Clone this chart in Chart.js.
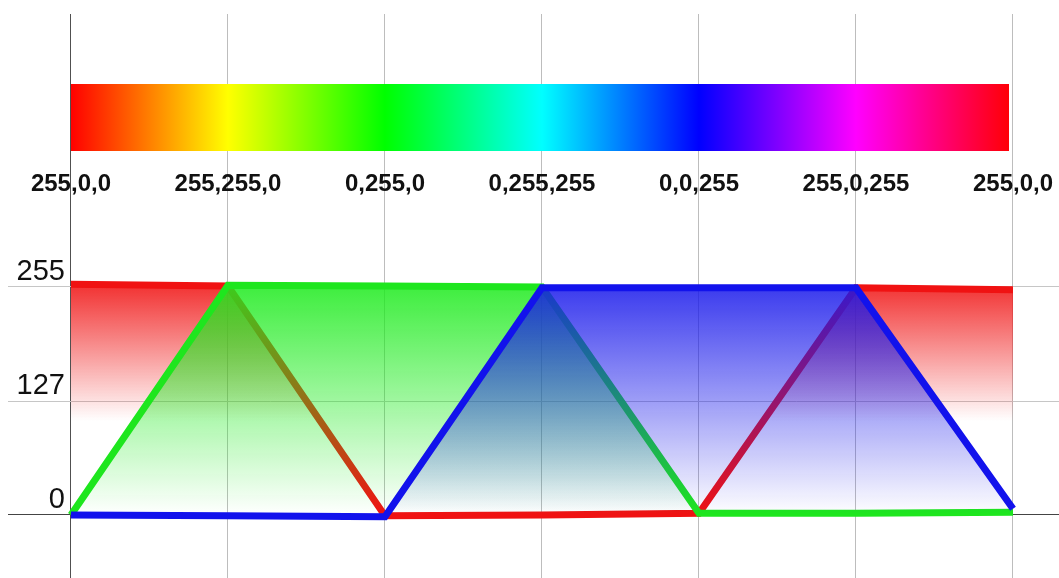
<!DOCTYPE html>
<html>
<head>
<meta charset="utf-8">
<script src="https://cdn.jsdelivr.net/npm/chart.js@4"></script>
<style>
  html, body { margin: 0; padding: 0; background: #fff; }
  #wrap { width: 1059px; height: 578px; }
</style>
</head>
<body>
<div id="wrap"><canvas id="rgb-chart"></canvas></div>
<script>
// steps around the hue wheel and their RGB names
const hueSteps = [0, 1, 2, 3, 4, 5, 6];
const hueLabels = ['255,0,0', '255,255,0', '0,255,0', '0,255,255', '0,0,255', '255,0,255', '255,0,0'];
const hueColors = ['#ff0000', '#ffff00', '#00ff00', '#00ffff', '#0000ff', '#ff00ff', '#ff0000'];

// channel values at each step (as drawn)
const redValues = [258, 256, -1, 0, 2, 254, 252];
const greenValues = [0, 257, 256, 255, 2, 2, 3];
const blueValues = [0, -1, -2, 254, 254, 254, 7];

const yTicks = [0, 127, 255];

// colour strip band
const stripX = [0, 5.975];
const stripTop = [482, 482];
const stripBottom = [407, 407];

const FONT = "'Liberation Sans', Arial, Helvetica, sans-serif";

function points(xs, ys) {
    return xs.map((x, i) => ({ x: x, y: ys[i] }));
}

// vertical fade used under each channel line
function fadeFill(rgb, topAlpha, fromVal, toVal) {
    return function (context) {
        const chart = context.chart;
        if (!chart.chartArea) return null;
        const y0 = chart.scales.y.getPixelForValue(fromVal);
        const y1 = chart.scales.y.getPixelForValue(toVal);
        const g = chart.ctx.createLinearGradient(0, y0, 0, y1);
        g.addColorStop(0, 'rgba(' + rgb + ',' + topAlpha + ')');
        g.addColorStop(1, 'rgba(' + rgb + ',0)');
        return g;
    };
}

// horizontal hue gradient for the strip
function hueFill(context) {
    const chart = context.chart;
    if (!chart.chartArea) return null;
    const xs = chart.scales.x;
    const g = chart.ctx.createLinearGradient(
        xs.getPixelForValue(hueSteps[0]), 0,
        xs.getPixelForValue(hueSteps[hueSteps.length - 1]), 0);
    hueColors.forEach((c, i) => g.addColorStop(i / (hueColors.length - 1), c));
    return g;
}

const lineBase = {
    borderWidth: 7,
    pointRadius: 0,
    fill: 'origin',
    tension: 0
};

const ctx = document.getElementById('rgb-chart').getContext('2d');
new Chart(ctx, {
    type: 'line',
    data: {
        datasets: [
            {
                label: 'strip',
                data: points(stripX, stripTop),
                borderWidth: 0,
                pointRadius: 0,
                fill: '+1',
                backgroundColor: hueFill,
                order: 10
            },
            {
                label: 'strip-base',
                data: points(stripX, stripBottom),
                borderWidth: 0,
                pointRadius: 0,
                fill: false,
                order: 11
            },
            Object.assign({}, lineBase, {
                label: 'R',
                data: points(hueSteps, redValues),
                borderColor: '#f01212',
                backgroundColor: fadeFill('240,25,25', 0.88, 255, 105),
                order: 3
            }),
            Object.assign({}, lineBase, {
                label: 'G',
                data: points(hueSteps, greenValues),
                borderColor: '#1ee61e',
                backgroundColor: fadeFill('30,235,30', 0.85, 255, 0),
                order: 2
            }),
            Object.assign({}, lineBase, {
                label: 'B',
                data: points(hueSteps, blueValues),
                borderColor: '#1212ec',
                backgroundColor: fadeFill('25,25,235', 0.85, 255, 0),
                order: 1
            })
        ]
    },
    options: {
        responsive: true,
        maintainAspectRatio: false,
        animation: false,
        layout: { padding: { left: 8, top: 14, right: 0, bottom: 0 } },
        plugins: {
            legend: { display: false },
            tooltip: { enabled: false }
        },
        scales: {
            x: {
                type: 'linear',
                min: -0.401,
                max: 6.293,
                position: { y: 386 },
                afterBuildTicks: s => { s.ticks = hueSteps.map(v => ({ value: v })); },
                afterFit: s => { s.paddingLeft = 0; s.paddingRight = 0; },
                grid: {
                    drawTicks: false,
                    lineWidth: 1,
                    color: c => (c.tick && c.tick.value === 0) ? '#505050' : '#bdbdbd'
                },
                border: { display: false },
                ticks: {
                    autoSkip: false,
                    maxRotation: 0,
                    padding: 0,
                    color: '#111',
                    font: { family: FONT, size: 24, weight: 'bold' },
                    callback: v => {
                        const i = hueSteps.indexOf(v);
                        return i >= 0 ? hueLabels[i] : '';
                    }
                }
            },
            y: {
                type: 'linear',
                min: -70.5,
                max: 560.3,
                afterBuildTicks: s => { s.ticks = yTicks.map(v => ({ value: v })); },
                afterFit: s => { s.width = 0; s.paddingTop = 0; s.paddingBottom = 0; },
                grid: {
                    drawTicks: false,
                    lineWidth: 1,
                    color: c => (c.tick && c.tick.value === 0) ? '#444' : '#c6c6c6'
                },
                border: { display: false },
                ticks: {
                    mirror: true,
                    crossAlign: 'far',
                    padding: 8.6,
                    labelOffset: -15,
                    color: '#111',
                    font: { family: FONT, size: 29 },
                    callback: v => String(v)
                }
            }
        }
    }
});
</script>
</body>
</html>
